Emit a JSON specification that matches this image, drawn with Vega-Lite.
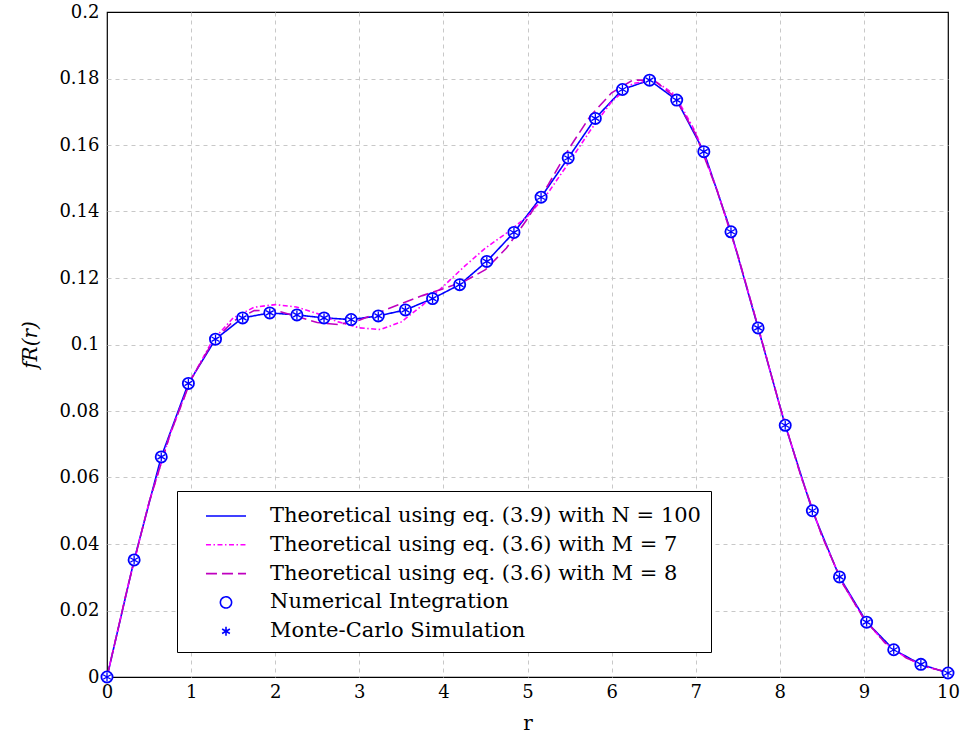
{
  "$schema": "https://vega.github.io/schema/vega-lite/v6.json",
  "autosize": {"type": "none"},
  "padding": {"left": 107, "top": 12, "right": 16, "bottom": 68},
  "width": 841,
  "height": 665,
  "background": "white",
  "datasets": {
    "main": [
      {"r": 0, "f": 0},
      {"r": 0.3226, "f": 0.0352},
      {"r": 0.6452, "f": 0.0662},
      {"r": 0.9677, "f": 0.0883},
      {"r": 1.2903, "f": 0.1016},
      {"r": 1.6129, "f": 0.1080},
      {"r": 1.9355, "f": 0.1095},
      {"r": 2.2581, "f": 0.1089},
      {"r": 2.5806, "f": 0.1080},
      {"r": 2.9032, "f": 0.1075},
      {"r": 3.2258, "f": 0.1086},
      {"r": 3.5484, "f": 0.1104},
      {"r": 3.8710, "f": 0.1138},
      {"r": 4.1935, "f": 0.1180},
      {"r": 4.5161, "f": 0.1250},
      {"r": 4.8387, "f": 0.1337},
      {"r": 5.1613, "f": 0.1443},
      {"r": 5.4839, "f": 0.1561},
      {"r": 5.8065, "f": 0.1680},
      {"r": 6.1290, "f": 0.1767},
      {"r": 6.4516, "f": 0.1795},
      {"r": 6.7742, "f": 0.1735},
      {"r": 7.0968, "f": 0.1580},
      {"r": 7.4194, "f": 0.1339},
      {"r": 7.7419, "f": 0.1050},
      {"r": 8.0645, "f": 0.0757},
      {"r": 8.3871, "f": 0.0500},
      {"r": 8.7097, "f": 0.0301},
      {"r": 9.0323, "f": 0.0165},
      {"r": 9.3548, "f": 0.0082},
      {"r": 9.6774, "f": 0.0038},
      {"r": 10, "f": 0.0012}
    ],
    "m7": [
      {"r": 0, "f": 0}, {"r": 0.25, "f": 0.0275}, {"r": 0.5, "f": 0.0525}, {"r": 0.75, "f": 0.0730},
      {"r": 1.0, "f": 0.0895}, {"r": 1.25, "f": 0.1010}, {"r": 1.5, "f": 0.1080}, {"r": 1.75, "f": 0.1112},
      {"r": 2.0, "f": 0.1120}, {"r": 2.25, "f": 0.1113}, {"r": 2.5, "f": 0.1093}, {"r": 2.75, "f": 0.1068},
      {"r": 3.0, "f": 0.1050}, {"r": 3.25, "f": 0.1045}, {"r": 3.5, "f": 0.1068}, {"r": 3.75, "f": 0.1118},
      {"r": 4.0, "f": 0.1175}, {"r": 4.25, "f": 0.1235}, {"r": 4.5, "f": 0.1290}, {"r": 4.75, "f": 0.1335},
      {"r": 5.0, "f": 0.1385}, {"r": 5.25, "f": 0.1458}, {"r": 5.5, "f": 0.1550}, {"r": 5.75, "f": 0.1645},
      {"r": 6.0, "f": 0.1730}, {"r": 6.25, "f": 0.1785}, {"r": 6.5, "f": 0.1795}, {"r": 6.75, "f": 0.1752},
      {"r": 7.0, "f": 0.1638}, {"r": 7.25, "f": 0.1468}, {"r": 7.5, "f": 0.1268}, {"r": 7.75, "f": 0.1045},
      {"r": 8.0, "f": 0.0815}, {"r": 8.25, "f": 0.0605}, {"r": 8.5, "f": 0.0425}, {"r": 8.75, "f": 0.0280},
      {"r": 9.0, "f": 0.0175}, {"r": 9.25, "f": 0.0103}, {"r": 9.5, "f": 0.0058}, {"r": 9.75, "f": 0.0030},
      {"r": 10, "f": 0.0014}
    ],
    "m8": [
      {"r": 0, "f": 0}, {"r": 0.25, "f": 0.0275}, {"r": 0.5, "f": 0.0525}, {"r": 0.75, "f": 0.0730},
      {"r": 1.0, "f": 0.0895}, {"r": 1.25, "f": 0.1005}, {"r": 1.5, "f": 0.1070}, {"r": 1.75, "f": 0.1102},
      {"r": 2.0, "f": 0.1103}, {"r": 2.25, "f": 0.1085}, {"r": 2.5, "f": 0.1066}, {"r": 2.75, "f": 0.1060},
      {"r": 3.0, "f": 0.1073}, {"r": 3.25, "f": 0.1098}, {"r": 3.5, "f": 0.1123}, {"r": 3.75, "f": 0.1147},
      {"r": 4.0, "f": 0.1168}, {"r": 4.25, "f": 0.1190}, {"r": 4.5, "f": 0.1225}, {"r": 4.75, "f": 0.1290},
      {"r": 5.0, "f": 0.1378}, {"r": 5.25, "f": 0.1482}, {"r": 5.5, "f": 0.1592}, {"r": 5.75, "f": 0.1688},
      {"r": 6.0, "f": 0.1757}, {"r": 6.25, "f": 0.1795}, {"r": 6.5, "f": 0.1795}, {"r": 6.75, "f": 0.1745},
      {"r": 7.0, "f": 0.1632}, {"r": 7.25, "f": 0.1466}, {"r": 7.5, "f": 0.1270}, {"r": 7.75, "f": 0.1045},
      {"r": 8.0, "f": 0.0815}, {"r": 8.25, "f": 0.0605}, {"r": 8.5, "f": 0.0425}, {"r": 8.75, "f": 0.0280},
      {"r": 9.0, "f": 0.0175}, {"r": 9.25, "f": 0.0103}, {"r": 9.5, "f": 0.0058}, {"r": 9.75, "f": 0.0030},
      {"r": 10, "f": 0.0014}
    ]
  },
  "config": {
    "font": "DejaVu Serif",
    "view": {"stroke": "black", "strokeWidth": 1.2},
    "axis": {
      "labelFont": "DejaVu Serif",
      "titleFont": "DejaVu Serif",
      "labelFontSize": 18,
      "titleFontSize": 20,
      "titleFontWeight": "normal",
      "labelColor": "black",
      "titleColor": "black",
      "domain": false,
      "ticks": false,
      "grid": true,
      "gridColor": "#c8c8c8",
      "gridDash": [4, 4],
      "gridWidth": 1
    },
    "legend": {
      "labelFont": "DejaVu Serif",
      "labelFontSize": 21,
      "labelColor": "black",
      "labelLimit": 700
    }
  },
  "encoding": {
    "x": {
      "field": "r", "type": "quantitative",
      "scale": {"domain": [0, 10], "nice": false, "zero": false},
      "axis": {
        "values": [0,1,2,3,4,5,6,7,8,9,10], "title": "r", "labelPadding": 6, "titlePadding": 12, "labelFlush": false,
        "gridOpacity": {"condition": {"test": "datum.value <= 0 || datum.value >= 10", "value": 0}, "value": 1}
      }
    },
    "y": {
      "field": "f", "type": "quantitative",
      "scale": {"domain": [0, 0.2], "nice": false},
      "axis": {
        "values": [0,0.02,0.04,0.06,0.08,0.1,0.12,0.14,0.16,0.18,0.2], "format": "~g", "title": "fR(r)", "titleFontStyle": "italic", "labelPadding": 8, "titlePadding": 18, "labelFlush": false,
        "gridOpacity": {"condition": {"test": "datum.value <= 0 || datum.value >= 0.2", "value": 0}, "value": 1}
      }
    }
  },
  "layer": [
    {
      "data": {"name": "main"},
      "transform": [{"calculate": "'Theoretical using eq. (3.9) with N = 100'", "as": "series"}],
      "mark": {"type": "line", "strokeWidth": 1.6},
      "encoding": {
        "color": {"field": "series", "type": "nominal"},
        "strokeDash": {"field": "series", "type": "nominal"}
      }
    },
    {
      "data": {"name": "m7"},
      "transform": [{"calculate": "'Theoretical using eq. (3.6) with M = 7'", "as": "series"}],
      "mark": {"type": "line", "strokeWidth": 1.6},
      "encoding": {
        "color": {"field": "series", "type": "nominal"},
        "strokeDash": {"field": "series", "type": "nominal"}
      }
    },
    {
      "data": {"name": "m8"},
      "transform": [{"calculate": "'Theoretical using eq. (3.6) with M = 8'", "as": "series"}],
      "mark": {"type": "line", "strokeWidth": 1.6},
      "encoding": {
        "color": {"field": "series", "type": "nominal"},
        "strokeDash": {"field": "series", "type": "nominal"}
      }
    },
    {
      "data": {"name": "main"},
      "transform": [{"calculate": "'Numerical Integration'", "as": "series"}],
      "mark": {"type": "point", "filled": false, "fill": "white", "fillOpacity": 1, "opacity": 1, "size": 784, "strokeWidth": 1.8},
      "encoding": {
        "color": {"field": "series", "type": "nominal"},
        "shape": {"field": "series", "type": "nominal"}
      }
    },
    {
      "data": {"name": "main"},
      "transform": [{"calculate": "'Monte-Carlo Simulation'", "as": "series"}],
      "mark": {"type": "point", "filled": false, "opacity": 1, "size": 784, "strokeWidth": 1.3},
      "encoding": {
        "color": {
          "field": "series", "type": "nominal",
          "scale": {
            "domain": ["Theoretical using eq. (3.9) with N = 100", "Theoretical using eq. (3.6) with M = 7", "Theoretical using eq. (3.6) with M = 8", "Numerical Integration", "Monte-Carlo Simulation"],
            "range": ["#0000ff", "#ff00ff", "#bf00bf", "#0000ff", "#0000ff"]
          },
          "legend": {
            "title": null,
            "orient": "none",
            "legendX": 70,
            "legendY": 479,
            "strokeColor": "black",
            "fillColor": "white",
            "padding": 10,
            "symbolOffset": 24,
            "labelOffset": 29,
            "symbolSize": 784,
            "symbolStrokeWidth": 1.6,
            "rowPadding": 3.8
          }
        },
        "shape": {
          "field": "series", "type": "nominal",
          "scale": {
            "domain": ["Theoretical using eq. (3.9) with N = 100", "Theoretical using eq. (3.6) with M = 7", "Theoretical using eq. (3.6) with M = 8", "Numerical Integration", "Monte-Carlo Simulation"],
            "range": ["M-1.43,0L1.43,0", "M-1.43,0L1.43,0", "M-1.43,0L1.43,0", "M0.4,0A0.4,0.4,0,1,1,-0.4,0A0.4,0.4,0,1,1,0.4,0Z", "M0,-0.32L0,0.32M-0.277,-0.16L0.277,0.16M-0.277,0.16L0.277,-0.16"]
          }
        },
        "strokeDash": {
          "field": "series", "type": "nominal",
          "scale": {
            "domain": ["Theoretical using eq. (3.9) with N = 100", "Theoretical using eq. (3.6) with M = 7", "Theoretical using eq. (3.6) with M = 8", "Numerical Integration", "Monte-Carlo Simulation"],
            "range": [[1, 0], [5, 2.5, 1.5, 2.5], [11, 5], [1, 0], [1, 0]]
          }
        }
      }
    }
  ]
}
